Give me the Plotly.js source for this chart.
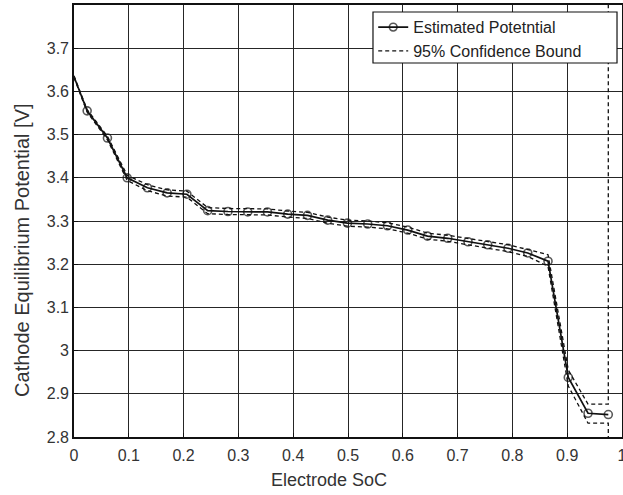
<!DOCTYPE html>
<html>
<head>
<meta charset="utf-8">
<script src="https://cdn.plot.ly/plotly-3.0.1.min.js"></script>
<style>html,body{margin:0;padding:0;background:#fff;}#chart{width:623px;height:495px;}</style>
</head>
<body>
<div id="chart"></div>
<script>
// Estimated potential
var soc = [0, 0.024, 0.061, 0.097, 0.134, 0.170, 0.206, 0.244, 0.281, 0.317, 0.353, 0.390, 0.426, 0.463, 0.499, 0.536, 0.572, 0.609, 0.645, 0.682, 0.719, 0.755, 0.792, 0.828, 0.865, 0.902, 0.938, 0.975];
var potential = [3.634, 3.555, 3.492, 3.400, 3.377, 3.365, 3.362, 3.324, 3.322, 3.321, 3.321, 3.316, 3.313, 3.302, 3.295, 3.293, 3.289, 3.279, 3.265, 3.260, 3.252, 3.245, 3.237, 3.226, 3.207, 2.938, 2.855, 2.852];
// 95% confidence bounds
var socBound = [0, 0.024, 0.061, 0.097, 0.134, 0.170, 0.206, 0.244, 0.281, 0.317, 0.353, 0.390, 0.426, 0.463, 0.499, 0.536, 0.572, 0.609, 0.645, 0.682, 0.719, 0.755, 0.792, 0.828, 0.865, 0.902, 0.938, 0.975, 0.975];
var upperBound = [3.636, 3.558, 3.496, 3.406, 3.384, 3.372, 3.369, 3.331, 3.329, 3.328, 3.328, 3.323, 3.320, 3.309, 3.302, 3.300, 3.296, 3.286, 3.272, 3.267, 3.259, 3.252, 3.245, 3.234, 3.222, 2.955, 2.876, 2.876, 4.5];
var lowerBound = [3.632, 3.552, 3.488, 3.394, 3.370, 3.358, 3.355, 3.317, 3.315, 3.314, 3.314, 3.309, 3.306, 3.295, 3.288, 3.286, 3.282, 3.272, 3.258, 3.253, 3.245, 3.238, 3.229, 3.218, 3.195, 2.918, 2.832, 2.832, 2.0];
var xTicks = [0, 0.1, 0.2, 0.3, 0.4, 0.5, 0.6, 0.7, 0.8, 0.9, 1];
var xTickText = ['0', '0.1', '0.2', '0.3', '0.4', '0.5', '0.6', '0.7', '0.8', '0.9', '1'];
var yTicks = [2.8, 2.9, 3.0, 3.1, 3.2, 3.3, 3.4, 3.5, 3.6, 3.7];
var yTickText = ['2.8', '2.9', '3', '3.1', '3.2', '3.3', '3.4', '3.5', '3.6', '3.7'];
var xTitle = 'Electrode SoC';
var yTitle = 'Cathode Equilibrium Potential [V]';

var markerSizes = soc.map(function (v, i) { return i === 0 ? 0 : 8; });

var traces = [
  {
    x: socBound, y: upperBound, type: 'scatter', mode: 'lines',
    name: '95% Confidence Bound',
    line: {color: '#111', width: 1.3, dash: '4px,3px'},
    legendrank: 2
  },
  {
    x: socBound, y: lowerBound, type: 'scatter', mode: 'lines',
    name: '95% Confidence Bound', showlegend: false,
    line: {color: '#111', width: 1.3, dash: '4px,3px'}
  },
  {
    x: soc, y: potential, type: 'scatter', mode: 'lines+markers',
    name: 'Estimated Potetntial',
    line: {color: '#111', width: 1.7},
    marker: {symbol: 'circle-open', size: markerSizes, color: '#111', line: {width: 1.6, color: '#111'}},
    legendrank: 1
  }
];

var layout = {
  width: 623, height: 495,
  margin: {l: 74, r: 1, t: 5, b: 58},
  paper_bgcolor: '#fff', plot_bgcolor: '#fff',
  font: {family: 'Liberation Sans, Arial, sans-serif', size: 16, color: '#222'},
  showlegend: true,
  legend: {
    x: 0.546, y: 0.988, xanchor: 'left', yanchor: 'top',
    bgcolor: 'rgba(0,0,0,0)', borderwidth: 0,
    font: {size: 16, color: '#222'}, tracegroupgap: 0
  },
  shapes: [
    {type: 'rect', xref: 'paper', yref: 'paper', layer: 'above',
     x0: 0.5456, x1: 0.9909, y0: 0.8657, y1: 0.9838,
     fillcolor: '#fff', line: {color: '#111', width: 1.2}}
  ],
  xaxis: {
    range: [0, 1], tickvals: xTicks, ticktext: xTickText,
    showgrid: true, gridcolor: '#262626', gridwidth: 1,
    zeroline: false, showline: true, linecolor: '#111', linewidth: 1.8, mirror: true,
    ticks: 'inside', ticklen: 4, tickcolor: '#111',
    ticklabeloverflow: 'allow', ticklabelstandoff: 3,
    tickfont: {size: 16, color: '#333'}
  },
  yaxis: {
    range: [2.8, 3.8], tickvals: yTicks, ticktext: yTickText,
    showgrid: true, gridcolor: '#262626', gridwidth: 1,
    zeroline: false, showline: true, linecolor: '#111', linewidth: 1.8, mirror: true,
    ticks: 'inside', ticklen: 4, tickcolor: '#111',
    tickfont: {size: 16, color: '#333'}
  },
  annotations: [
    {text: xTitle, xref: 'paper', yref: 'paper', x: 0.465, y: -0.0995,
     xanchor: 'center', yanchor: 'middle', showarrow: false,
     font: {size: 18, color: '#333'}},
    {text: yTitle, xref: 'paper', yref: 'paper', x: -0.0949, y: 0.433,
     xanchor: 'center', yanchor: 'middle', showarrow: false, textangle: -90,
     font: {size: 20, color: '#333'}}
  ]
};

Plotly.newPlot('chart', traces, layout, {displayModeBar: false, staticPlot: true});
</script>
</body>
</html>
